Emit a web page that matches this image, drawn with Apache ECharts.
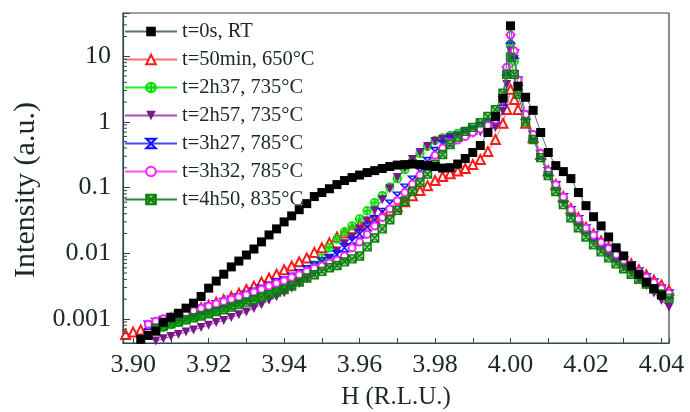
<!DOCTYPE html>
<html><head><meta charset="utf-8">
<script src="https://cdn.jsdelivr.net/npm/echarts@6/dist/echarts.min.js"></script>
<style>html,body{margin:0;padding:0;background:#fff}#c{width:690px;height:412px}</style>
</head><body><div id="c"></div><script>
// ---- data (H in r.l.u., intensity in a.u.) ----
const H = [3.898,3.900,3.902,3.904,3.906,3.908,3.910,3.912,3.914,3.916,3.918,3.920,3.922,3.924,3.926,3.928,3.930,3.932,3.934,3.936,3.938,3.940,3.942,3.944,3.946,3.948,3.950,3.952,3.954,3.956,3.958,3.960,3.962,3.964,3.966,3.968,3.970,3.972,3.974,3.976,3.978,3.980,3.982,3.984,3.986,3.988,3.990,3.992,3.994,3.996,3.998,3.999,4.000,4.001,4.002,4.004,4.006,4.008,4.010,4.012,4.014,4.016,4.018,4.020,4.022,4.024,4.026,4.028,4.030,4.032,4.034,4.036,4.038,4.040,4.042];

const seriesNames = ['t=0s, RT','t=50min, 650°C','t=2h37, 735°C','t=2h57, 735°C','t=3h27, 785°C','t=3h32, 785°C','t=4h50, 835°C'];

const I_RT = [null,null,0.00049,0.00056,0.00065,0.00089,0.00106,0.00122,0.00146,0.00174,0.0022,0.00294,0.00377,0.0048,0.0062,0.0076,0.0094,0.0116,0.0149,0.019,0.0235,0.030,0.037,0.046,0.057,0.073,0.084,0.096,0.111,0.128,0.142,0.155,0.169,0.181,0.195,0.209,0.220,0.224,0.228,0.224,0.216,0.209,0.198,0.201,0.228,0.277,0.342,0.437,0.69,1.21,2.29,null,29,null,3.49,2.37,1.5,0.69,0.342,0.216,0.175,0.137,0.084,0.053,0.036,0.0261,0.0177,0.0121,0.0091,0.0064,0.0048,0.00364,0.0029,0.0023,null];

const I_50min = [0.00058,0.00063,0.00068,0.00075,0.00086,0.00092,0.00103,0.00114,0.00127,0.00136,0.00148,0.00162,0.0018,0.00197,0.0022,0.00247,0.0028,0.00316,0.00364,0.0042,0.0048,0.0056,0.0064,0.0074,0.0085,0.0103,0.0121,0.0144,0.0177,0.0204,0.0235,0.0271,0.030,0.0334,0.0385,0.0443,0.051,0.061,0.075,0.090,0.107,0.128,0.147,0.163,0.178,0.195,0.224,0.267,0.354,0.54,0.95,1.55,3.14,2.2,1.55,0.95,0.58,0.318,0.18,0.111,0.073,0.048,0.0347,0.025,0.0197,0.0154,0.0125,0.0101,0.0082,0.0069,0.0056,0.0047,0.0039,0.0033,0.00275];

const I_2h37 = [null,null,null,null,0.00067,0.00074,0.00082,0.00089,0.00097,0.00105,0.00114,0.00122,0.00133,0.00146,0.00158,0.00174,0.00193,0.0021,0.0023,0.00256,0.0028,0.00316,0.00364,0.0043,0.0054,0.0066,0.0085,0.0121,0.0165,0.0212,0.0261,0.0334,0.0443,0.059,0.075,0.102,0.137,0.188,0.254,0.330,0.422,0.52,0.57,0.62,0.667,0.716,0.77,0.85,0.97,1.17,2.2,5.3,15,8.4,3.9,1.2,0.6,0.31,0.17,0.104,0.068,0.043,0.031,0.0228,0.0178,0.014,0.0112,0.0091,0.0074,0.0062,0.0051,0.0041,0.0034,0.0028,0.0023];

const I_2h57 = [null,null,null,null,0.00046,0.0005,0.00054,0.00058,0.00063,0.00068,0.00074,0.0008,0.00088,0.00095,0.00105,0.00116,0.00128,0.00144,0.00165,0.00193,0.00217,0.0025,0.00294,0.00346,0.0041,0.005,0.0062,0.0082,0.0108,0.0139,0.0177,0.0235,0.031,0.0443,0.0653,0.096,0.142,0.201,0.267,0.342,0.422,0.503,0.54,0.58,0.61,0.645,0.667,0.70,0.75,0.824,1.45,3.7,12,9.0,3.4,1.17,0.6,0.31,0.169,0.1,0.063,0.0413,0.029,0.0212,0.016,0.0125,0.0098,0.0076,0.0061,0.005,0.004,0.0032,0.00248,0.0019,0.00151];

const I_3h27 = [null,null,null,0.0008,0.00088,0.00095,0.00103,0.0011,0.00119,0.00129,0.00141,0.00151,0.00165,0.00178,0.00193,0.0021,0.0023,0.00256,0.00284,0.00316,0.00352,0.0038,0.0043,0.0049,0.0056,0.0064,0.0074,0.0083,0.0095,0.0121,0.0154,0.0197,0.0252,0.0323,0.0419,0.056,0.074,0.098,0.13,0.175,0.249,0.354,0.453,0.53,0.6,0.68,0.75,0.85,0.95,1.13,2.06,5.9,18.3,10.8,4.16,1.26,0.62,0.318,0.175,0.107,0.070,0.0443,0.0323,0.0235,0.0184,0.0144,0.0116,0.0094,0.0076,0.0064,0.0052,0.0042,0.00352,0.00284,0.00239];

const I_3h32 = [null,null,null,0.00083,0.00092,0.00101,0.00106,0.00114,0.00123,0.00133,0.00146,0.00156,0.0017,0.00184,0.002,0.00216,0.00234,0.00256,0.00284,0.00316,0.00348,0.0038,0.0043,0.0047,0.0053,0.0059,0.0064,0.0071,0.0078,0.0091,0.0121,0.0148,0.0195,0.026,0.035,0.047,0.063,0.084,0.113,0.155,0.22,0.31,0.40,0.48,0.53,0.6,0.69,0.78,0.884,1.09,2.2,6.8,21,12,4.4,1.3,0.64,0.33,0.18,0.11,0.072,0.046,0.0333,0.0242,0.0188,0.0147,0.0118,0.0096,0.0078,0.0065,0.0053,0.0043,0.0036,0.0029,0.00245];

const I_4h50 = [null,null,null,null,0.00072,0.00078,0.00084,0.0009,0.00097,0.00104,0.00111,0.0012,0.00129,0.00138,0.00151,0.00165,0.0018,0.00196,0.00214,0.00234,0.00256,0.0028,0.00316,0.00364,0.0042,0.0047,0.0053,0.006,0.0065,0.0074,0.0082,0.0091,0.0125,0.0171,0.0235,0.0323,0.045,0.062,0.087,0.119,0.16,0.224,0.318,0.453,0.59,0.716,0.824,0.97,1.21,1.53,2.73,5.3,9.7,5.3,2.63,1.0,0.54,0.286,0.152,0.087,0.055,0.0347,0.0244,0.0177,0.0134,0.0105,0.0085,0.0069,0.0058,0.0048,0.004,0.0034,0.00284,0.00239,0.00207];

const xTickValues = [3.90,3.92,3.94,3.96,3.98,4.00,4.02,4.04];
const xTickLabels = ['3.90','3.92','3.94','3.96','3.98','4.00','4.02','4.04'];
const yTickValues = [0.001,0.01,0.1,1,10];
const yTickLabels = ['0.001','0.01','0.1','1','10'];
const yMinorTicks = [0.0005,0.0006,0.0007,0.0008,0.0009,0.002,0.003,0.004,0.005,0.006,0.007,0.008,0.009,0.02,0.03,0.04,0.05,0.06,0.07,0.08,0.09,0.2,0.3,0.4,0.5,0.6,0.7,0.8,0.9,2,3,4,5,6,7,8,9,20,30,40];

// ---- presentation ----
const X_MIN = 3.8973, X_MAX = 4.042, Y_MIN = 0.00043, Y_MAX = 45.5;
const AXIS = '#2c4848';
const TXT = '#1a2828';
const FONT = '"Liberation Serif","Times New Roman",serif';

const allData = [I_RT, I_50min, I_2h37, I_2h57, I_3h27, I_3h32, I_4h50];
const styles = [
  {symbol:'rect', size:9, item:{color:'#000000'}, line:'#5a7272', z:4},
  {symbol:'emptyTriangle', size:9, item:{color:'#ff1a1a', borderColor:'#ff1a1a', borderWidth:1.4}, line:'#ff6a6a', z:2},
  {symbol:'path://M10,5A5,5,0,1,1,0,5A5,5,0,1,1,10,5ZM5,0L5,10M0,5L10,5', size:8, item:{color:'rgba(0,230,0,0.4)', borderColor:'#00dd00', borderWidth:1.4}, line:'#22ee22', z:2},
  {symbol:'triangle', rotate:180, size:9, item:{color:'#7a168c'}, line:'#a050b0', z:2},
  {symbol:'path://M0,0L10,0L0,10L10,10ZM0,0L10,10M10,0L0,10', size:8, item:{color:'rgba(0,0,255,0.25)', borderColor:'#1010ff', borderWidth:1.4}, line:'#4a4aff', z:2},
  {symbol:'emptyCircle', size:7, item:{color:'#ff20ff', borderColor:'#ff20ff', borderWidth:1.6}, line:'#ff50ff', z:2},
  {symbol:'path://M0,0L10,0L10,10L0,10ZM0,0L10,10M10,0L0,10', size:8, item:{color:'rgba(0,128,0,0.4)', borderColor:'#0a800a', borderWidth:1.4}, line:'#2a8a2a', z:3}
];

const series = allData.map((arr, k) => ({
  name: seriesNames[k],
  type: 'line',
  data: H.map((h, i) => [h, arr[i]]),
  connectNulls: true,
  symbol: styles[k].symbol,
  symbolSize: styles[k].size,
  symbolRotate: styles[k].rotate || 0,
  showAllSymbol: true,
  itemStyle: styles[k].item,
  lineStyle: {color: styles[k].line, width: 1},
  z: styles[k].z,
  animation: false
}));

series.push({
  type: 'custom',
  name: 'minorTicks',
  silent: true,
  z: 10,
  clip: false,
  data: yMinorTicks.map(v => [X_MIN, v]),
  renderItem: function (params, api) {
    const p = api.coord([api.value(0), api.value(1)]);
    return {type: 'line', shape: {x1: p[0], y1: p[1], x2: p[0] + 4, y2: p[1]}, style: {stroke: AXIS, lineWidth: 1}};
  },
  animation: false
});

function labelFor(v, vals, labels, rel) {
  for (let i = 0; i < vals.length; i++) {
    if (Math.abs(v - vals[i]) <= (rel ? vals[i] * 1e-6 : 1e-7)) return labels[i];
  }
  return '';
}

const chart = echarts.init(document.getElementById('c'), null, {renderer: 'canvas'});
chart.setOption({
  animation: false,
  backgroundColor: '#ffffff',
  grid: {left: 123, top: 13, width: 546, height: 330, show: true, borderColor: AXIS, borderWidth: 1.2, backgroundColor: 'transparent', outerBoundsMode: 'none', containLabel: false},
  legend: {
    data: seriesNames,
    orient: 'vertical',
    left: 124, top: 21,
    padding: 0,
    itemWidth: 52, itemHeight: 12, itemGap: 7,
    textStyle: {fontFamily: FONT, fontSize: 20.5, lineHeight: 20, color: TXT},
    inactiveColor: '#ccc'
  },
  xAxis: {
    type: 'value', min: X_MIN, max: X_MAX, splitNumber: 14,
    name: 'H (R.L.U.)', nameLocation: 'middle', nameGap: 42,
    nameTextStyle: {fontFamily: FONT, fontSize: 25, color: TXT},
    axisLine: {show: true, lineStyle: {color: AXIS, width: 1.2}},
    axisTick: {show: true, inside: true, length: 5, lineStyle: {color: AXIS}},
    splitLine: {show: false},
    axisLabel: {fontFamily: FONT, fontSize: 26, color: TXT, margin: 9,
      formatter: v => labelFor(v, xTickValues, xTickLabels, false)}
  },
  yAxis: {
    type: 'log', logBase: 10, min: Y_MIN, max: Y_MAX,
    name: 'Intensity (a.u.)', nameLocation: 'middle', nameGap: 80,
    nameTextStyle: {fontFamily: FONT, fontSize: 30, color: TXT, padding: [0, 24, 0, 0]},
    axisLine: {show: true, lineStyle: {color: AXIS, width: 1.2}},
    axisTick: {show: true, inside: true, length: 7, lineStyle: {color: AXIS}},
    splitLine: {show: false},
    axisLabel: {fontFamily: FONT, fontSize: 26, color: TXT, margin: 12,
      formatter: v => labelFor(v, yTickValues, yTickLabels, true)}
  },
  series: series
});
</script></body></html>
